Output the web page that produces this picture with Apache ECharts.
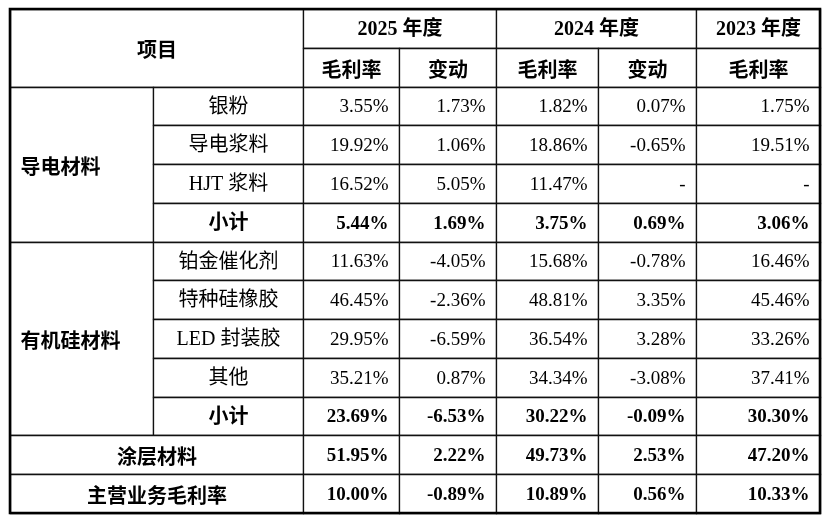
<!DOCTYPE html>
<html>
<head>
<meta charset="utf-8">
<script src="https://cdn.jsdelivr.net/npm/echarts@6/dist/echarts.min.js"></script>
<style>
html,body{margin:0;padding:0;background:#fff;}
#chart{width:830px;height:522px;}
</style>
</head>
<body>
<div id="chart"></div>
<script>
// 表头
var years = ['2025 年度', '2024 年度', '2023 年度'];
var subHeads = ['毛利率', '变动', '毛利率', '变动', '毛利率'];
// 项目
var groups = ['导电材料', '有机硅材料'];
var items = ['银粉', '导电浆料', 'HJT 浆料', '小计', '铂金催化剂', '特种硅橡胶', 'LED 封装胶', '其他', '小计'];
var totals = ['涂层材料', '主营业务毛利率'];
// 数值(%)，null 为 "-"
var margin2025 = [3.55, 19.92, 16.52, 5.44, 11.63, 46.45, 29.95, 35.21, 23.69, 51.95, 10.00];
var change2025 = [1.73, 1.06, 5.05, 1.69, -4.05, -2.36, -6.59, 0.87, -6.53, 2.22, -0.89];
var margin2024 = [1.82, 18.86, 11.47, 3.75, 15.68, 48.81, 36.54, 34.34, 30.22, 49.73, 10.89];
var change2024 = [0.07, -0.65, null, 0.69, -0.78, 3.35, 3.28, -3.08, -0.09, 2.53, 0.56];
var margin2023 = [1.75, 19.51, null, 3.06, 16.46, 45.46, 33.26, 37.41, 30.30, 47.20, 10.33];

// 布局
var colEdges = [0, 143, 293, 389, 486, 588, 686, 810];
var groupRows = [[0, 4], [4, 9]];
var boldRows = [3, 8, 9, 10];
var FONT_CN = '"Noto Sans CJK SC"';
var FONT_NUM = '"Liberation Serif", "Noto Sans CJK SC"';

var cells = [];
function addCell(c0, c1, r0, r1, text, font, align) {
	cells.push({ x0: colEdges[c0], x1: colEdges[c1], y0: r0, y1: r1, text: text, font: font, align: align || 'center' });
}

// 表头部分
addCell(0, 2, 0, 2, '项目', 'bold 20px ' + FONT_CN);
for (var i = 0; i < years.length; i++) {
	var c0 = 2 + i * 2;
	var c1 = Math.min(c0 + 2, 7);
	addCell(c0, c1, 0, 1, years[i], 'bold 20px ' + FONT_NUM);
}
for (var j = 0; j < subHeads.length; j++) {
	addCell(2 + j, 3 + j, 1, 2, subHeads[j], 'bold 20px ' + FONT_CN);
}

// 分组
for (var g = 0; g < groups.length; g++) {
	addCell(0, 1, 2 + groupRows[g][0], 2 + groupRows[g][1], groups[g], 'bold 20px ' + FONT_CN, 'left');
}
for (var k = 0; k < items.length; k++) {
	var bold = boldRows.indexOf(k) >= 0;
	addCell(1, 2, 2 + k, 3 + k, items[k], (bold ? 'bold ' : '') + '20px ' + FONT_NUM);
}
for (var t = 0; t < totals.length; t++) {
	addCell(0, 2, 11 + t, 12 + t, totals[t], 'bold 20px ' + FONT_CN);
}

// 数值列
var valueCols = [margin2025, change2025, margin2024, change2024, margin2023];
function fmt(v) {
	return v == null ? '-' : v.toFixed(2) + '%';
}
for (var c = 0; c < valueCols.length; c++) {
	var arr = valueCols[c];
	for (var r = 0; r < arr.length; r++) {
		var b = boldRows.indexOf(r) >= 0;
		addCell(2 + c, 3 + c, 2 + r, 3 + r, fmt(arr[r]), (b ? 'bold ' : '') + '19px ' + FONT_NUM, 'right');
	}
}

var seriesData = cells.map(function (d, idx) {
	return [d.x0, d.x1, d.y0, d.y1, idx];
});

function renderCell(params, api) {
	var d = cells[api.value(4)];
	var p0 = api.coord([api.value(0), api.value(2)]);
	var p1 = api.coord([api.value(1), api.value(3)]);
	var x = Math.round(p0[0]) + 0.5, y = Math.round(p0[1]) + 0.5;
	var w = Math.round(p1[0]) - Math.round(p0[0]);
	var h = Math.round(p1[1]) - Math.round(p0[1]);
	var tx = d.align === 'left' ? x + 10 : (d.align === 'right' ? x + w - 11 : x + w / 2);
	return {
		type: 'group',
		children: [{
			type: 'rect',
			shape: { x: x, y: y, width: w, height: h },
			style: { fill: '#fff', stroke: '#111', lineWidth: 1.3 }
		}, {
			type: 'text',
			style: {
				text: d.text,
				x: tx,
				y: y + h / 2 + 1,
				font: d.font,
				fill: '#000',
				align: d.align,
				verticalAlign: 'middle'
			}
		}]
	};
}

// 外框
function renderFrame(params, api) {
	var p0 = api.coord([colEdges[0], 0]);
	var p1 = api.coord([colEdges[7], 13]);
	return {
		type: 'rect',
		shape: { x: p0[0], y: p0[1], width: p1[0] - p0[0], height: p1[1] - p0[1] },
		style: { fill: 'none', stroke: '#000', lineWidth: 2.6 }
	};
}

var myChart = echarts.init(document.getElementById('chart'));
var option = {
	animation: false,
	grid: { left: 10, right: 10, top: 9, bottom: 9 },
	xAxis: { type: 'value', min: 0, max: 810, show: false },
	yAxis: { type: 'value', min: 0, max: 13, inverse: true, show: false },
	series: [{
		type: 'custom',
		renderItem: renderCell,
		data: seriesData,
		silent: true
	}, {
		type: 'custom',
		renderItem: renderFrame,
		data: [[0]],
		silent: true,
		z: 3
	}]
};
myChart.setOption(option);
</script>
</body>
</html>
